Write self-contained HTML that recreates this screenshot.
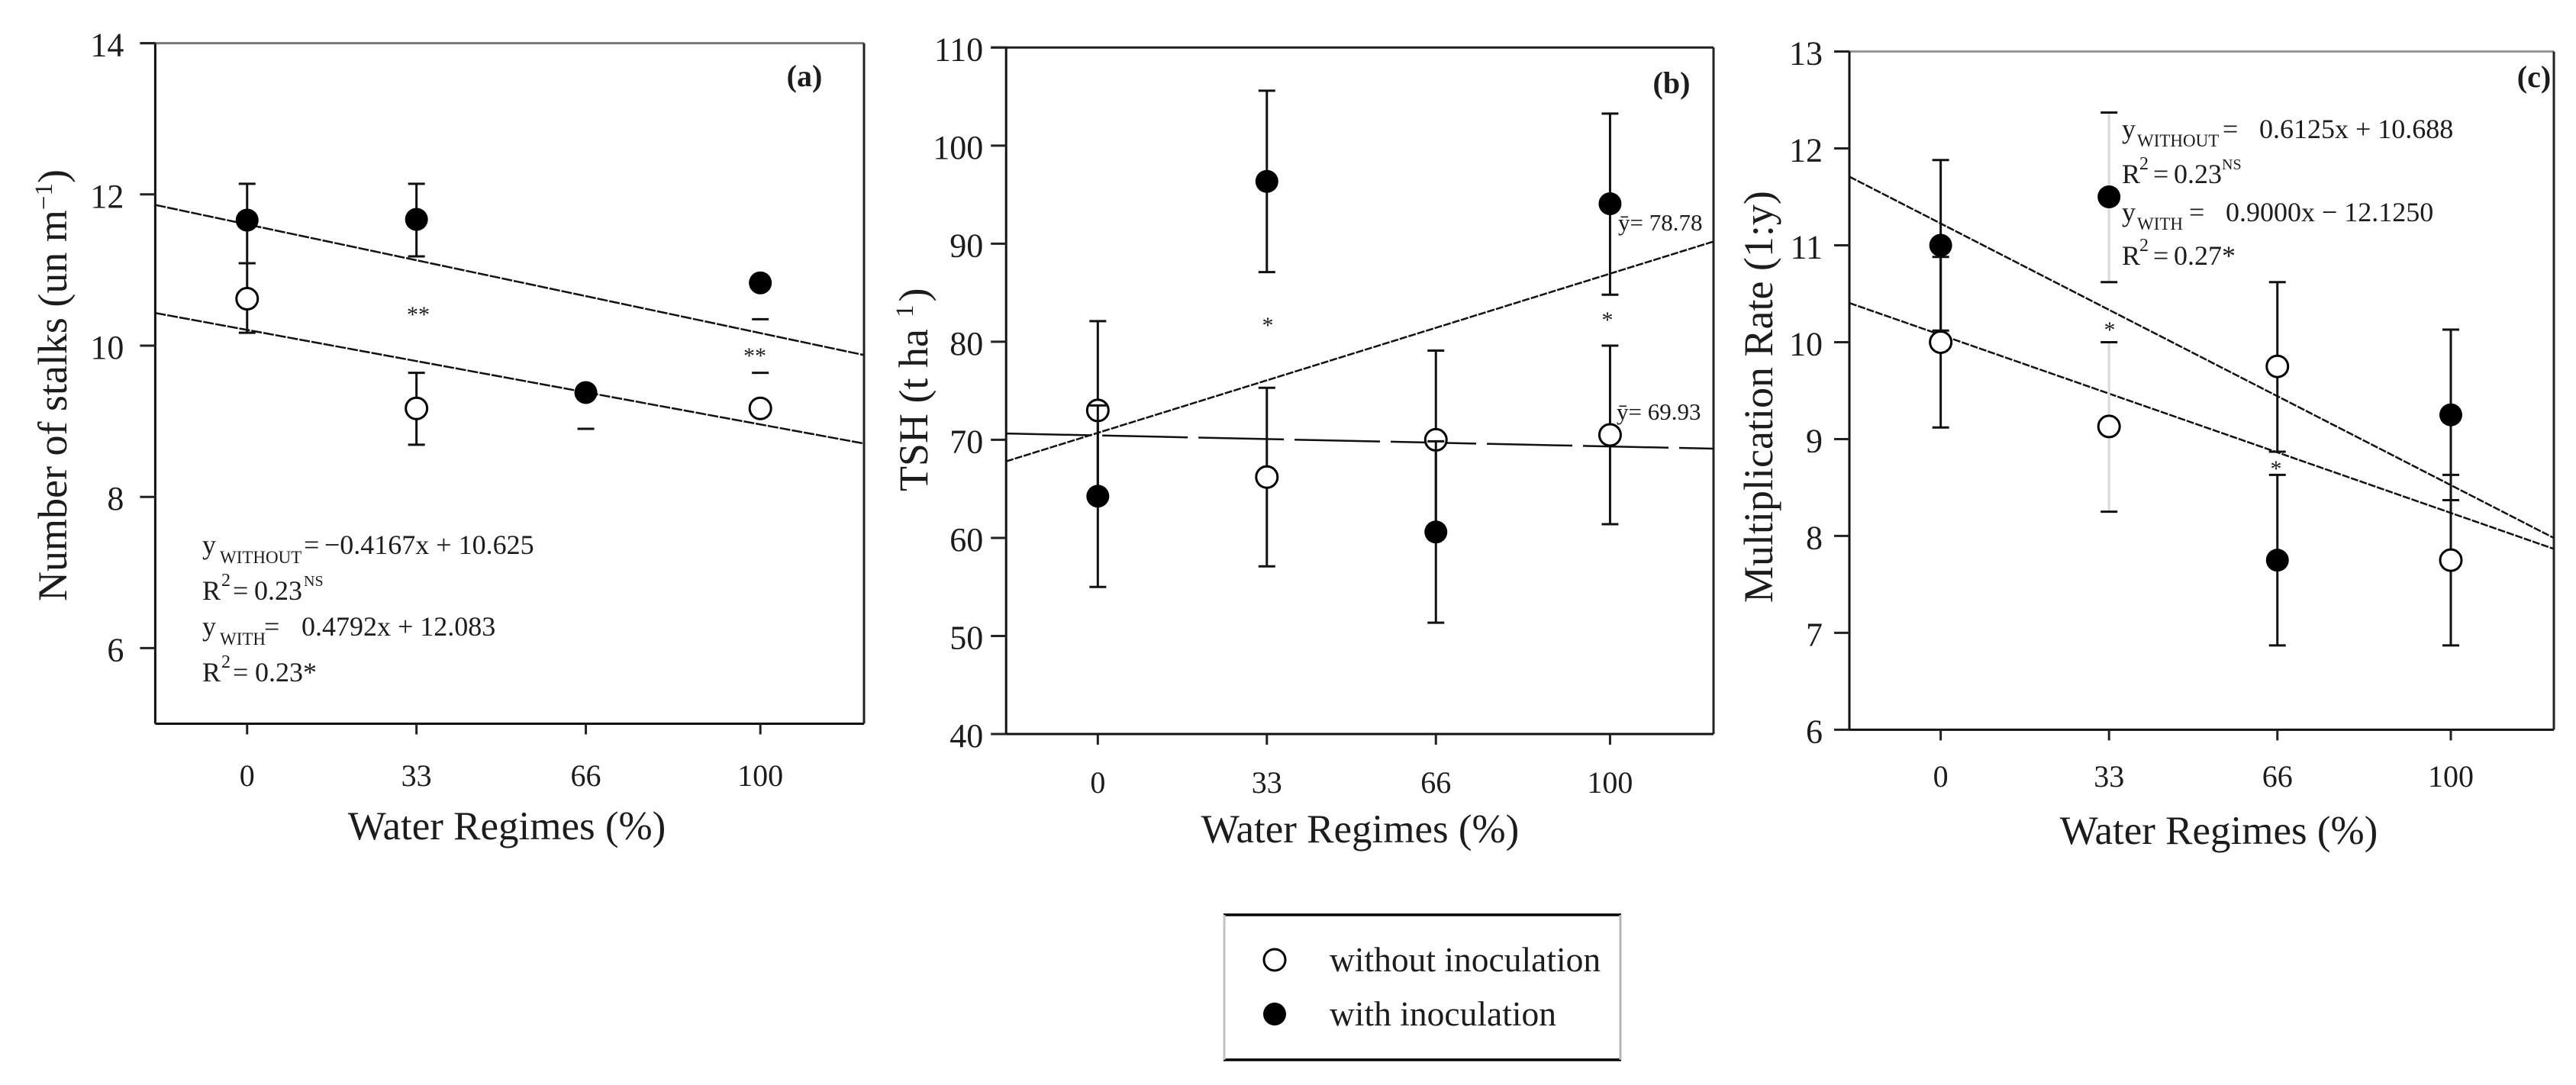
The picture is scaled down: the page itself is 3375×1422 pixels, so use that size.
<!DOCTYPE html>
<html lang="en">
<head>
<meta charset="utf-8">
<title>Water regime charts</title>
<style>
html,body{margin:0;padding:0;background:#fff;width:3375px;height:1422px;overflow:hidden}
svg{display:block}
text{font-family:"Liberation Serif",serif;fill:#1c1c1c}
.title-x{font-size:53px}
.title-y{font-size:54px}
.eq{font-size:36px}
.sub{font-size:23px}
.sup{font-size:24px}
.sup-ns{font-size:20px}
.tag{font-size:40px;font-weight:bold;text-anchor:middle}
.star{font-size:30px;text-anchor:middle}
.mean{font-size:31px}
.legend-text{font-size:45.5px}
</style>
</head>
<body>
<svg id="figure" xmlns="http://www.w3.org/2000/svg" width="3375" height="1422" viewBox="0 0 3375 1422">
  <rect x="0" y="0" width="3375" height="1422" fill="#fff"/>
  <g id="panel-a"></g>
  <g id="panel-b"></g>
  <g id="panel-c"></g>

  <g>
    <text class="tag" x="1054" y="113">(a)</text>
    <text class="title-x" x="664" y="1100" text-anchor="middle">Water Regimes (%)</text>
    <text class="title-y" transform="translate(87,788) rotate(-90)">Number of stalks (un m<tspan font-size="33" dy="-19">−1</tspan><tspan dy="19">)</tspan></text>
    <text class="star" x="548" y="422">**</text>
    <text class="star" x="989" y="476">**</text>
    <text class="eq" y="726"><tspan x="265">y</tspan><tspan class="sub" x="288" dy="12">WITHOUT</tspan><tspan x="398" dy="-12">=</tspan><tspan x="425">−0.4167x + 10.625</tspan></text>
    <text class="eq" y="786"><tspan x="265">R</tspan><tspan class="sup" x="290" dy="-18">2</tspan><tspan x="305" dy="18">=</tspan><tspan x="333">0.23</tspan><tspan class="sup-ns" x="398" dy="-18">NS</tspan></text>
    <text class="eq" y="833"><tspan x="265">y</tspan><tspan class="sub" x="288" dy="12">WITH</tspan><tspan x="346" dy="-12">=</tspan><tspan x="395">0.4792x + 12.083</tspan></text>
    <text class="eq" y="893"><tspan x="265">R</tspan><tspan class="sup" x="290" dy="-18">2</tspan><tspan x="305" dy="18">=</tspan><tspan x="334">0.23*</tspan></text>
  </g>

  <g>
    <text class="tag" x="2190" y="122">(b)</text>
    <text class="title-x" x="1782" y="1104" text-anchor="middle">Water Regimes (%)</text>
    <text class="title-y" transform="translate(1215,644) rotate(-90)">TSH (t ha<tspan font-size="33" dy="-19" dx="15">1</tspan><tspan dy="19" dx="4">)</tspan></text>
    <text class="star" x="1661" y="436">*</text>
    <text class="star" x="2106" y="429">*</text>
    <text class="mean" x="2120" y="302">ȳ= 78.78</text>
    <text class="mean" x="2118" y="550">ȳ= 69.93</text>
  </g>

  <g>
    <text class="tag" x="3320" y="114">(c)</text>
    <text class="title-x" x="2907" y="1106" text-anchor="middle">Water Regimes (%)</text>
    <text class="title-y" transform="translate(2322,790) rotate(-90)">Multiplication Rate (1:y)</text>
    <text class="star" x="2764" y="442">*</text>
    <text class="star" x="2982" y="624">*</text>
    <text class="eq" y="181"><tspan x="2780">y</tspan><tspan class="sub" x="2800" dy="11">WITHOUT</tspan><tspan x="2912" dy="-11">=</tspan><tspan x="2960">0.6125x + 10.688</tspan></text>
    <text class="eq" y="240"><tspan x="2780">R</tspan><tspan class="sup" x="2803" dy="-18">2</tspan><tspan x="2821" dy="18">=</tspan><tspan x="2848">0.23</tspan><tspan class="sup-ns" x="2911" dy="-18">NS</tspan></text>
    <text class="eq" y="290"><tspan x="2780">y</tspan><tspan class="sub" x="2800" dy="11">WITH</tspan><tspan x="2868" dy="-11">=</tspan><tspan x="2916">0.9000x − 12.1250</tspan></text>
    <text class="eq" y="347"><tspan x="2780">R</tspan><tspan class="sup" x="2803" dy="-18">2</tspan><tspan x="2821" dy="18">=</tspan><tspan x="2848">0.27*</tspan></text>
  </g>

  <g>
    <line x1="1603" y1="1199" x2="2124" y2="1199" stroke="#000" stroke-width="3.5"/>
    <line x1="1603" y1="1389" x2="2124" y2="1389" stroke="#000" stroke-width="3.5"/>
    <line x1="1604" y1="1199" x2="1604" y2="1389" stroke="#c4c4c4" stroke-width="3"/>
    <line x1="2123" y1="1199" x2="2123" y2="1389" stroke="#b4b4b4" stroke-width="3"/>
    <circle cx="1670" cy="1258" r="14" fill="#fff" stroke="#000" stroke-width="3"/>
    <circle cx="1670" cy="1329" r="15" fill="#000"/>
    <text class="legend-text" x="1742" y="1273">without inoculation</text>
    <text class="legend-text" x="1742" y="1344">with inoculation</text>
  </g>
</svg>

<script>
// Shared category values (water regime, %)
const categories = [0, 33, 66, 100];

// Panel (a): number of stalks
const aTicks = [6, 8, 10, 12, 14];
const aWith = [11.66, 11.67, 9.38, 10.83];
const aWithTop = [12.14, 12.14, null, null];
const aWithBottom = [11.09, 11.18, 8.9, 10.35];
const aWithout = [10.62, 9.17, null, 9.17];
const aWithoutTop = [11.09, 9.64, null, 9.64];
const aWithoutBottom = [10.17, 8.69, null, null];
const aFitSlopes = [-0.4792, -0.4167];
const aFitIntercepts = [12.083, 10.625];

// Panel (b): TSH
const bTicks = [40, 50, 60, 70, 80, 90, 100, 110];
const bWith = [64.25, 96.35, 60.6, 94.07];
const bWithTop = [73.5, 105.6, 69.85, 103.26];
const bWithBottom = [55, 87.1, 51.35, 84.8];
const bWithout = [73, 66.2, 70, 70.5];
const bWithoutTop = [82.1, 75.3, 79.1, 79.6];
const bWithoutBottom = [63.9, 57.1, 60.9, 61.4];
const bFitSlopes = [5.41, -0.374];
const bFitIntercepts = [65.3, 70.82];

// Panel (c): multiplication rate
const cTicks = [6, 7, 8, 9, 10, 11, 12, 13];
const cWith = [11, 11.5, 7.75, 9.25];
const cWithTop = [11.88, 12.37, 8.63, 10.13];
const cWithBottom = [10.12, 10.62, 6.87, 8.37];
const cWithout = [10, 9.13, 9.75, 7.75];
const cWithoutTop = [10.88, 10, 10.62, 8.63];
const cWithoutBottom = [9.12, 8.25, 8.87, 6.87];
const cFitSlopes = [-0.9, -0.6125];
const cFitIntercepts = [12.125, 10.688];

const SVG_NS = 'http://www.w3.org/2000/svg';
const X_MIN = -17.9;
const X_MAX = 120.2;

function svgEl(tag, attrs) {
  const el = document.createElementNS(SVG_NS, tag);
  Object.keys(attrs).forEach(function (k) { el.setAttribute(k, attrs[k]); });
  return el;
}

function drawLine(parent, x1, y1, x2, y2, stroke, width, dash) {
  const el = svgEl('line', { x1: x1, y1: y1, x2: x2, y2: y2, stroke: stroke, 'stroke-width': width });
  if (dash) el.setAttribute('stroke-dasharray', dash);
  parent.appendChild(el);
  return el;
}

function drawPanel(p) {
  const root = document.getElementById(p.id);
  const xScale = function (v) { return p.left + (v - X_MIN) / (X_MAX - X_MIN) * (p.right - p.left); };
  const yScale = function (v) { return p.bottom - (v - p.yMin) / (p.yMax - p.yMin) * (p.bottom - p.top); };

  // Axes frame
  const spineTop = drawLine(root, p.left - 20, p.top, p.right, p.top, p.topColor, 3);
  
  
  const spineBottom = drawLine(root, p.left, p.bottom, p.right, p.bottom, '#111', 3);
  
  
  const spineLeft = drawLine(root, p.left, p.top, p.left, p.bottom, '#111', 3);
  
  
  const spineRight = drawLine(root, p.right, p.top, p.right, p.bottom, '#222', 3);
  
  

  // Y ticks and labels
  p.yTicks.forEach(function (v) {
    const tick = drawLine(root, p.left - 20, yScale(v), p.left, yScale(v), '#222', 3);
    
    
    const label = svgEl('text', { x: p.left - p.labelGap, y: yScale(v) + 17, 'text-anchor': 'end', 'font-size': 44 });
    label.textContent = String(v);
    
    
    root.appendChild(label);
  });

  // X ticks and labels
  categories.forEach(function (v) {
    const tick = drawLine(root, xScale(v), p.bottom, xScale(v), p.bottom + 14, '#222', 3);
    
    
    const label = svgEl('text', { x: xScale(v), y: p.xLabelY, 'text-anchor': 'middle', 'font-size': 40 });
    label.textContent = String(v);
    
    
    root.appendChild(label);
  });

  // Regression lines: y = slope * n + intercept, n = 1 + regime / 33.33
  const toN = function (v) { return 1 + v / 33.33; };
  p.fitSlopes.forEach(function (slope, i) {
    const a = slope * toN(X_MIN) + p.fitIntercepts[i];
    const b = slope * toN(X_MAX) + p.fitIntercepts[i];
    const fit = drawLine(root, p.left, yScale(a), p.right, yScale(b), '#111', 2.5, p.fitDash[i]);
    
    
  });

  // Without inoculation (open) drawn first, with inoculation (filled) on top
  drawSeries(root, xScale, yScale, p, p.without, p.withoutTop, p.withoutBottom, false);
  drawSeries(root, xScale, yScale, p, p.withVals, p.withTop, p.withBottom, true);
}

function drawSeries(root, xScale, yScale, p, values, tops, bottoms, filled) {
  categories.forEach(function (cat, i) {
    const x = xScale(cat);
    if (tops[i] !== null && bottoms[i] !== null) {
      const color = i === p.faintStem ? '#d8d8d8' : '#111';
      const stem = drawLine(root, x, yScale(tops[i]), x, yScale(bottoms[i]), color, 3);
      
      
    }
    if (tops[i] !== null) {
      const capTop = drawLine(root, x - 11, yScale(tops[i]), x + 11, yScale(tops[i]), '#111', 3);
      
      
    }
    if (bottoms[i] !== null) {
      const capBottom = drawLine(root, x - 11, yScale(bottoms[i]), x + 11, yScale(bottoms[i]), '#111', 3);
      
      
    }
    if (values[i] !== null) {
      const pt = svgEl('circle', {
        cx: x, cy: yScale(values[i]), r: filled ? 15 : 14,
        fill: filled ? '#000' : '#fff',
        stroke: filled ? 'none' : '#000',
        'stroke-width': filled ? 0 : 3
      });
      
      
      root.appendChild(pt);
    }
  });
}

drawPanel({
  id: 'panel-a', left: 203.4, right: 1132, top: 56.6, bottom: 948.5, labelGap: 41,
  yMin: 5, yMax: 14, yTicks: aTicks, xLabelY: 1030, topColor: '#777', faintStem: -1,
  withVals: aWith, withTop: aWithTop, withBottom: aWithBottom,
  without: aWithout, withoutTop: aWithoutTop, withoutBottom: aWithoutBottom,
  fitSlopes: aFitSlopes, fitIntercepts: aFitIntercepts, fitDash: ['14 2', '14 2']
});
drawPanel({
  id: 'panel-b', left: 1318.2, right: 2245, top: 62.3, bottom: 962, labelGap: 30,
  yMin: 40, yMax: 110, yTicks: bTicks, xLabelY: 1039, topColor: '#222', faintStem: -1,
  withVals: bWith, withTop: bWithTop, withBottom: bWithBottom,
  without: bWithout, withoutTop: bWithoutTop, withoutBottom: bWithoutBottom,
  fitSlopes: bFitSlopes, fitIntercepts: bFitIntercepts, fitDash: ['10 2', '112 14']
});
drawPanel({
  id: 'panel-c', left: 2423, right: 3346, top: 67.5, bottom: 956.4, labelGap: 35,
  yMin: 6, yMax: 13, yTicks: cTicks, xLabelY: 1031, topColor: '#999', faintStem: 1,
  withVals: cWith, withTop: cWithTop, withBottom: cWithBottom,
  without: cWithout, withoutTop: cWithoutTop, withoutBottom: cWithoutBottom,
  fitSlopes: cFitSlopes, fitIntercepts: cFitIntercepts, fitDash: ['10 2', '10 2']
});
</script>
</body>
</html>
